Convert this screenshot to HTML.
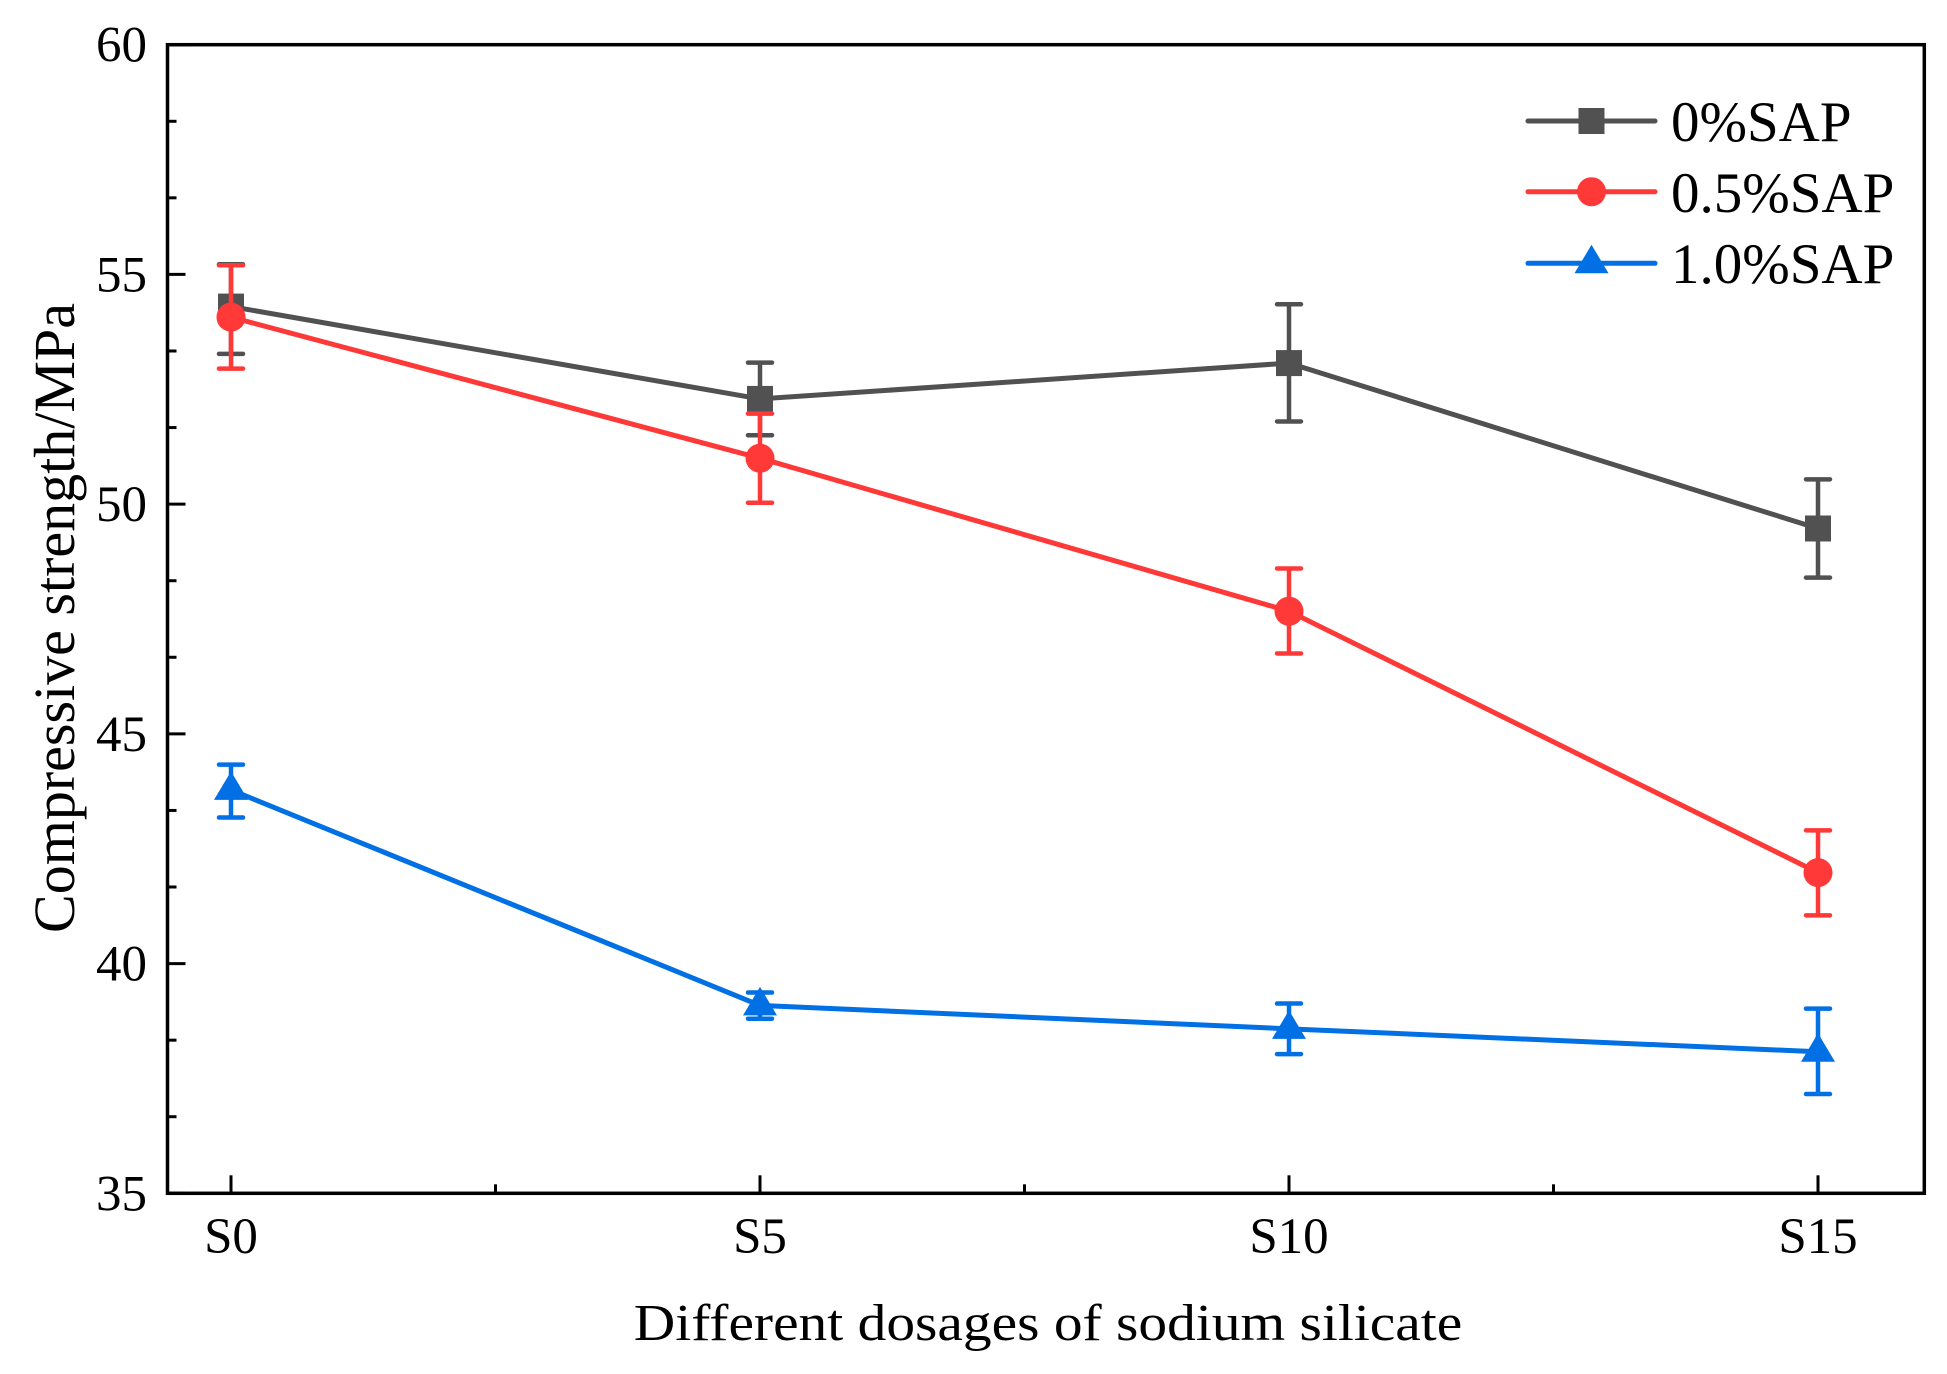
<!DOCTYPE html>
<html lang="en">
<head>
<meta charset="utf-8">
<title>Compressive strength vs sodium silicate dosage</title>
<style>
html,body{margin:0;padding:0;background:#fff;}
svg{display:block;}
text{font-family:"Liberation Serif",serif;fill:#000;}
</style>
</head>
<body>
<svg id="chart" xmlns="http://www.w3.org/2000/svg" width="1947" height="1374" viewBox="0 0 1947 1374">
  <rect x="0" y="0" width="1947" height="1374" fill="#ffffff"/>
  <g id="series-layer"></g>
  <rect x="167.5" y="44.7" width="1756.8" height="1148.6" fill="none" stroke="#000" stroke-width="3.5"/>
  <g id="axis-layer"></g>
  <g id="legend-layer"></g>
  <text transform="translate(1048 1340) scale(1.105 1)" font-size="52" text-anchor="middle">Different dosages of sodium silicate</text>
  <text transform="translate(74 618) rotate(-90)" font-size="58" text-anchor="middle">Compressive strength/MPa</text>
</svg>
<script>
const categories = ['S0', 'S5', 'S10', 'S15'];
const yTickLabels = [35, 40, 45, 50, 55, 60];
const yMinorTicks = [36.667, 38.333, 41.667, 43.333, 46.667, 48.333, 51.667, 53.333, 56.667, 58.333];
const xMinorTicks = [0.5, 1.5, 2.5];

const seriesNames = ['0%SAP', '0.5%SAP', '1.0%SAP'];

const values0 = [54.3, 52.29, 53.07, 49.47];
const upper0 = [55.22, 53.08, 54.35, 50.54];
const lower0 = [53.27, 51.5, 51.8, 48.4];

const values05 = [54.07, 51.0, 47.67, 41.98];
const upper05 = [55.2, 51.97, 48.6, 42.9];
const lower05 = [52.95, 50.03, 46.75, 41.05];

const values10 = [43.78, 39.09, 38.58, 38.08];
const upper10 = [44.33, 39.37, 39.13, 39.02];
const lower10 = [43.18, 38.8, 38.03, 37.16];

const allValues = [values0, values05, values10];
const allUpper = [upper0, upper05, upper10];
const allLower = [lower0, lower05, lower10];
const colors = ['#515151', '#ff3838', '#0070e4'];
const markerKinds = ['square', 'circle', 'triangle'];
const seriesSlugs = ['0-sap', '0-5-sap', '1-0-sap'];

const SVGNS = 'http://www.w3.org/2000/svg';
const plot = { left: 167.5, right: 1924.3, top: 44.7, bottom: 1193.3 };
const yMin = 35, yMax = 60;
const xFirst = 231, xStep = 529;

function xScale(i) { return xFirst + i * xStep; }
function yScale(v) { return plot.bottom - (v - yMin) / (yMax - yMin) * (plot.bottom - plot.top); }

function make(tag, attrs, parent) {
  const n = document.createElementNS(SVGNS, tag);
  for (const k in attrs) n.setAttribute(k, attrs[k]);
  parent.appendChild(n);
  return n;
}

function drawMarker(kind, cx, cy, color, parent) {
  if (kind === 'square') {
    return make('rect', { x: cx - 13, y: cy - 13, width: 26, height: 26, fill: color }, parent);
  }
  if (kind === 'circle') {
    return make('circle', { cx: cx, cy: cy, r: 14.5, fill: color }, parent);
  }
  return make('polygon', { points: (cx) + ',' + (cy - 18.5) + ' ' + (cx + 17) + ',' + (cy + 10) + ' ' + (cx - 17) + ',' + (cy + 10), fill: color }, parent);
}

const axisLayer = document.getElementById('axis-layer');
const seriesLayer = document.getElementById('series-layer');
const legendLayer = document.getElementById('legend-layer');

yTickLabels.forEach(function (v) {
  const t = make('line', { x1: plot.left, x2: plot.left + 18, y1: yScale(v), y2: yScale(v), stroke: '#000', 'stroke-width': 3 }, axisLayer);
  
  
  const l = make('text', { x: 147, y: yScale(v) + 17, 'font-size': 51, 'text-anchor': 'end' }, axisLayer);
  l.textContent = String(v);
  
  
});

yMinorTicks.forEach(function (v) {
  const t = make('line', { x1: plot.left, x2: plot.left + 9, y1: yScale(v), y2: yScale(v), stroke: '#000', 'stroke-width': 3 }, axisLayer);
  
  
});

categories.forEach(function (c, i) {
  const t = make('line', { x1: xScale(i), x2: xScale(i), y1: plot.bottom, y2: plot.bottom - 18, stroke: '#000', 'stroke-width': 3 }, axisLayer);
  
  
  const l = make('text', { x: xScale(i), y: 1253, 'font-size': 51, 'text-anchor': 'middle' }, axisLayer);
  l.textContent = c;
  
  
});

xMinorTicks.forEach(function (p) {
  const t = make('line', { x1: xScale(p), x2: xScale(p), y1: plot.bottom, y2: plot.bottom - 9, stroke: '#000', 'stroke-width': 3 }, axisLayer);
  
  
});

allValues.forEach(function (vals, s) {
  const color = colors[s];
  const g = make('g', {}, seriesLayer);
  
  

  vals.forEach(function (v, i) {
    const x = xScale(i);
    const stem = make('line', { x1: x, x2: x, y1: yScale(allUpper[s][i]), y2: yScale(allLower[s][i]), stroke: color, 'stroke-width': 4.5 }, g);
    
    
    const capTop = make('line', { x1: x - 12, x2: x + 12, y1: yScale(allUpper[s][i]), y2: yScale(allUpper[s][i]), stroke: color, 'stroke-width': 4.5, 'stroke-linecap': 'round' }, g);
    
    
    const capBottom = make('line', { x1: x - 12, x2: x + 12, y1: yScale(allLower[s][i]), y2: yScale(allLower[s][i]), stroke: color, 'stroke-width': 4.5, 'stroke-linecap': 'round' }, g);
    
    
  });

  const pts = vals.map(function (v, i) { return xScale(i) + ',' + yScale(v); }).join(' ');
  const line = make('polyline', { points: pts, fill: 'none', stroke: color, 'stroke-width': 5, 'stroke-linejoin': 'round' }, g);
  
  

  vals.forEach(function (v, i) {
    const m = drawMarker(markerKinds[s], xScale(i), yScale(v), color, g);
    
    
  });
});

const legendRowY = [121, 191.7, 263.3];
const legendTextX = [1671, 1671, 1671];
const legendTextY = [141, 212, 283];
seriesNames.forEach(function (name, s) {
  const g = make('g', {}, legendLayer);
  
  
  const ln = make('line', { x1: 1528, x2: 1655, y1: legendRowY[s], y2: legendRowY[s], stroke: colors[s], 'stroke-width': 5, 'stroke-linecap': 'round' }, g);
  
  
  const mk = drawMarker(markerKinds[s], 1591.5, legendRowY[s], colors[s], g);
  
  
  const tx = make('text', { x: legendTextX[s], y: legendTextY[s], 'font-size': 57 }, g);
  tx.textContent = name;
  
  
});
</script>
</body>
</html>
